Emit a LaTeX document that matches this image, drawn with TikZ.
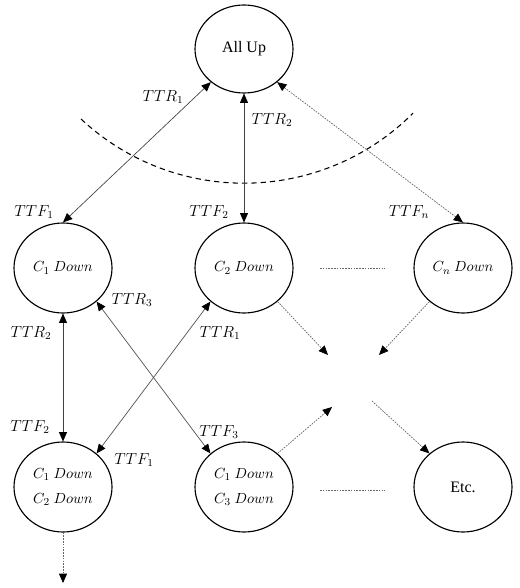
\documentclass[tikz,border=0pt]{standalone}
\usepackage{fontspec}
\setmainfont{Liberation Serif}
\usetikzlibrary{shapes.geometric,arrows.meta}

\begin{document}
\begin{tikzpicture}[x=0.75pt,y=-0.75pt,
  state/.style={ellipse, draw, line width=0.85pt, minimum width=73.5pt,
    minimum height=67.5pt, inner sep=0pt, align=center,
    font=\fontsize{11}{18.75}\selectfont},
  link/.style={draw=black!75, line width=0.5pt,
    {Triangle[length=7pt,width=6pt,color=black]}-{Triangle[length=7pt,width=6pt,color=black]}},
  link1/.style={draw=black!75, line width=0.5pt, -{Triangle[length=7pt,width=6pt,color=black]}},
  faint/.style={draw=black!60, line width=0.55pt, dash pattern=on 1.2pt off 0.9pt},
  lbl/.style={font=\fontsize{11.5}{13}\selectfont, inner sep=0pt}
]
\useasboundingbox (0,0) rectangle (519,588);

% states
\node[state, minimum height=66pt, font=\fontsize{12}{14}\selectfont] (allup) at (244,49) {All Up};
\node[state] (c1) at (63,268) {$C_1\ Down$};
\node[state] (c2) at (244,268) {$C_2\ Down$};
\node[state] (cn) at (463,268) {$C_n\ Down$};
\node[state] (c12) at (63,487) {$C_1\ Down$\\$C_2\ Down$};
\node[state] (c13) at (244,487) {$C_1\ Down$\\$C_3\ Down$};
\node[state, font=\fontsize{12}{14}\selectfont] (etc) at (463,487) {Etc.};

% boundary of the all-up region
\coordinate (arcL) at (81,119);
\draw[line width=0.8pt, dash pattern=on 4pt off 3pt] (arcL) arc[start angle=-133, end angle=-45, radius=179.25pt];

% free ends of open connectors
\coordinate (m1) at (328,355);
\coordinate (m2) at (379,355);
\coordinate (m3) at (332,407);
\coordinate (m4) at (372,401);
\coordinate (m5) at (63,583);
\coordinate (s1a) at (320,268);
\coordinate (s1b) at (385,268);
\coordinate (s2a) at (320,490);
\coordinate (s2b) at (385,490);

% failure / repair transitions
\draw[link] (allup.225) -- (c1.north);
\draw[link] (allup.south) -- (c2.north);
\draw[link, faint] (allup.-45) -- (cn.north);
\draw[link] (c1.south) -- (c12.north);
\draw[link] (c1.-45) -- (c13.135);
\draw[link] (c2.-135) -- (c12.45);

% continuation connectors
\draw[link1, faint] (c2.-45) -- (m1);
\draw[link1, faint] (cn.-135) -- (m2);
\draw[link1, faint] (c13.45) -- (m3);
\draw[link1, faint] (m4) -- (etc.135);
\draw[link1, faint] (c12.south) -- (m5);
\draw[faint] (s1a) -- (s1b);
\draw[faint] (s2a) -- (s2b);

% rate labels
\node[lbl] (l1) at (163,97) {$TTR_1$};
\node[lbl] (l2) at (272,120) {$TTR_2$};
\node[lbl] (l3) at (34,212) {$TTF_1$};
\node[lbl] (l4) at (209,212) {$TTF_2$};
\node[lbl] (l5) at (409,212) {$TTF_n$};
\node[lbl] (l6) at (132,300) {$TTR_3$};
\node[lbl] (l7) at (31,333) {$TTR_2$};
\node[lbl] (l8) at (220,333) {$TTR_1$};
\node[lbl] (l9) at (30,427) {$TTF_2$};
\node[lbl] (l10) at (219,432) {$TTF_3$};
\node[lbl] (l11) at (134,460) {$TTF_1$};
\end{tikzpicture}
\end{document}
